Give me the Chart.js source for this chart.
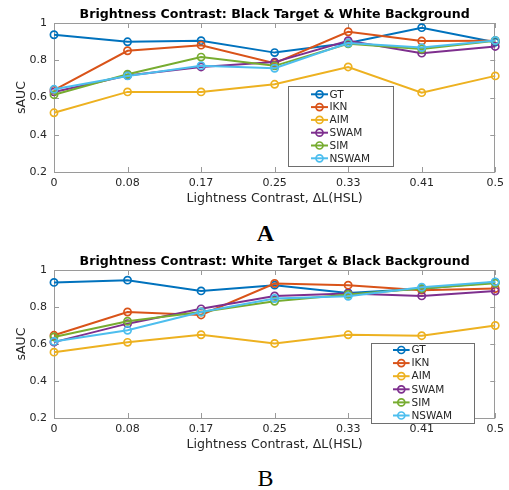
<!DOCTYPE html>
<html>
<head>
<meta charset="utf-8">
<script src="https://cdn.jsdelivr.net/npm/chart.js@4/dist/chart.umd.min.js"></script>
<style>
  html, body { margin: 0; padding: 0; background: #fff; }
  body { width: 509px; height: 490px; position: relative; overflow: hidden; }
  canvas { position: absolute; left: 0; }
  .lab { position: absolute; left: 0; width: 531px; text-align: center;
         font-family: "Liberation Serif", "DejaVu Serif", serif; font-size: 24px; line-height: 1; color: #000; }
</style>
</head>
<body>
<canvas id="cA" width="509" height="215" style="top:0px"></canvas>
<div class="lab" style="top:221px;font-weight:bold">A</div>
<canvas id="cB" width="509" height="214" style="top:247px"></canvas>
<div class="lab" style="top:466px">B</div>
<script>
// ---------- data ----------
const categories = ['0', '0.08', '0.17', '0.25', '0.33', '0.41', '0.5'];
const seriesNames = ['GT', 'IKN', 'AIM', 'SWAM', 'SIM', 'NSWAM'];
const seriesColors = ['#0072BD', '#D95319', '#EDB120', '#7E2F8E', '#77AC30', '#4DBEEE'];
const yTicks = [0.2, 0.4, 0.6, 0.8, 1];

// Chart A: Black Target & White Background
const gtA    = [0.937, 0.899, 0.905, 0.841, 0.893, 0.975, 0.897];
const iknA   = [0.640, 0.851, 0.881, 0.784, 0.953, 0.903, 0.905];
const aimA   = [0.518, 0.630, 0.630, 0.671, 0.764, 0.626, 0.716];
const swamA  = [0.630, 0.718, 0.764, 0.790, 0.905, 0.838, 0.874];
const simA   = [0.615, 0.725, 0.817, 0.770, 0.888, 0.860, 0.905];
const nswamA = [0.644, 0.716, 0.771, 0.757, 0.892, 0.868, 0.906];

// Chart B: White Target & Black Background
const gtB    = [0.933, 0.945, 0.887, 0.918, 0.876, 0.898, 0.934];
const iknB   = [0.647, 0.773, 0.757, 0.927, 0.918, 0.891, 0.900];
const aimB   = [0.556, 0.609, 0.650, 0.603, 0.650, 0.645, 0.700];
const swamB  = [0.610, 0.710, 0.790, 0.860, 0.873, 0.860, 0.886];
const simB   = [0.638, 0.723, 0.773, 0.831, 0.868, 0.900, 0.928];
const nswamB = [0.614, 0.674, 0.773, 0.846, 0.858, 0.907, 0.936];

const titleA = 'Brightness Contrast: Black Target & White Background';
const titleB = 'Brightness Contrast: White Target & Black Background';
const xTitle = 'Lightness Contrast, \u0394L(HSL)';
const yTitle = 'sAUC';

const FONT = '"DejaVu Sans", sans-serif';

// inward ticks + box, MATLAB-like
const boxPlugin = {
  id: 'boxTicks',
  beforeDatasetsDraw(chart) {
    const {ctx, chartArea: a, scales: {x, y}} = chart;
    ctx.save();
    ctx.strokeStyle = '#9a9a9a';
    ctx.lineWidth = 1;
    ctx.strokeRect(Math.round(a.left) + 0.5, Math.round(a.top) + 0.5,
                   Math.round(a.right - a.left) - 1, Math.round(a.bottom - a.top));
    const L = 5;
    ctx.beginPath();
    x.ticks.forEach((t, i) => {
      const px = Math.round(x.getPixelForTick(i)) + 0.5;
      ctx.moveTo(px, a.bottom); ctx.lineTo(px, a.bottom - L);
      ctx.moveTo(px, a.top); ctx.lineTo(px, a.top + L);
    });
    y.ticks.forEach((t, i) => {
      const py = Math.round(y.getPixelForTick(i)) + 0.5;
      ctx.moveTo(a.left, py); ctx.lineTo(a.left + L, py);
      ctx.moveTo(a.right, py); ctx.lineTo(a.right - L, py);
    });
    ctx.stroke();
    ctx.restore();
  }
};

// legend box drawn inside the chart
const legendPlugin = {
  id: 'boxLegend',
  afterDatasetsDraw(chart, args, opts) {
    const {ctx} = chart;
    const b = opts.box;
    ctx.save();
    ctx.fillStyle = '#fff';
    ctx.fillRect(b.x, b.y, b.w, b.h);
    ctx.strokeStyle = '#6e6e6e';
    ctx.lineWidth = 1;
    ctx.strokeRect(b.x + 0.5, b.y + 0.5, b.w, b.h);
    ctx.font = '10.5px ' + FONT;
    ctx.textBaseline = 'middle';
    chart.data.datasets.forEach((ds, i) => {
      const cy = b.y + opts.first + i * opts.step;
      ctx.strokeStyle = ds.borderColor;
      ctx.lineWidth = 2;
      ctx.beginPath();
      ctx.moveTo(b.x + opts.l0, cy); ctx.lineTo(b.x + opts.l1, cy);
      ctx.stroke();
      ctx.lineWidth = 1.7;
      ctx.beginPath();
      ctx.arc(b.x + (opts.l0 + opts.l1) / 2, cy, 3.5, 0, Math.PI * 2);
      ctx.stroke();
      ctx.fillStyle = '#262626';
      ctx.fillText(ds.label, b.x + opts.tx, cy + 0.5);
    });
    ctx.restore();
  }
};

function makeChart(id, title, series, legendOpts) {
  const datasets = series.map((vals, i) => ({
    label: seriesNames[i],
    data: vals,
    borderColor: seriesColors[i],
    backgroundColor: seriesColors[i],
    pointBackgroundColor: 'rgba(0,0,0,0)',
    pointBorderColor: seriesColors[i],
    borderWidth: 2,
    pointRadius: 3.6,
    pointBorderWidth: 1.7,
    tension: 0,
    order: series.length - 1 - i
  }));
  return new Chart(document.getElementById(id), {
    type: 'line',
    data: { labels: categories, datasets },
    plugins: [boxPlugin, legendPlugin],
    options: {
      responsive: false,
      animation: false,
      events: [],
      layout: { padding: { left: 0, right: 10, top: 0, bottom: 0 } },
      plugins: {
        legend: { display: false },
        tooltip: { enabled: false },
        title: {
          display: true, text: title, fullSize: false, color: '#000',
          font: { family: FONT, size: 12.6, weight: 'bold', lineHeight: 1 },
          padding: { top: 8, bottom: 2.4 }
        },
        boxLegend: legendOpts
      },
      scales: {
        x: {
          type: 'category',
          offset: false,
          grid: { display: false, drawTicks: false },
          border: { display: false },
          ticks: { color: '#262626', font: { family: FONT, size: 11 }, padding: 5, maxRotation: 0, autoSkip: false },
          title: { display: true, text: xTitle, color: '#262626',
                   font: { family: FONT, size: 12.6, lineHeight: 1.2 }, padding: { top: 0, bottom: 9 } },
          afterFit(s) { s.height = 43; }
        },
        y: {
          min: 0.2, max: 1,
          grid: { display: false, drawTicks: false },
          border: { display: false },
          afterBuildTicks(s) { s.ticks = yTicks.map(v => ({ value: v })); },
          ticks: { color: '#262626', font: { family: FONT, size: 11 }, padding: 7,
                   callback: v => String(+Number(v).toFixed(2)) },
          title: { display: true, text: yTitle, color: '#262626',
                   font: { family: FONT, size: 12.6, lineHeight: 1.2 }, padding: { top: 14, bottom: 0 } },
          afterFit(s) { s.width = 54; }
        }
      }
    }
  });
}

makeChart('cA', titleA, [gtA, iknA, aimA, swamA, simA, nswamA],
  { box: { x: 288, y: 86, w: 105, h: 80 }, first: 8.3, step: 12.8, l0: 23, l1: 40, tx: 41.5 });
makeChart('cB', titleB, [gtB, iknB, aimB, swamB, simB, nswamB],
  { box: { x: 371, y: 96, w: 103, h: 80 }, first: 7, step: 13.1, l0: 22, l1: 38.6, tx: 40.5 });
</script>
</body>
</html>
